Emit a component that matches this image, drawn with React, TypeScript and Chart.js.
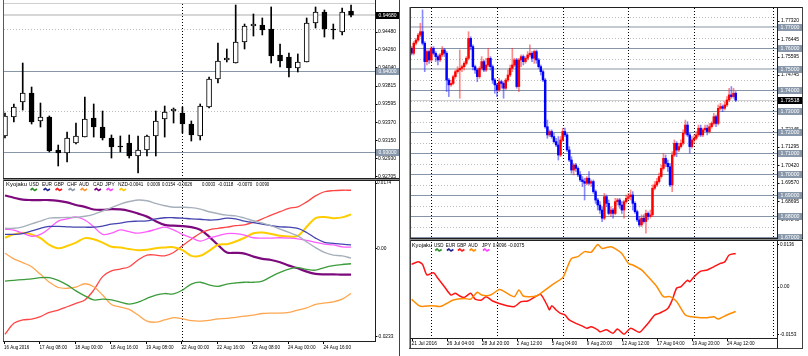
import React, { useEffect, useRef } from "react";
import { Chart, registerables } from "chart.js";

Chart.register(...registerables);

const FONT = '"Liberation Sans", Arial, sans-serif';

/* ====================== LEFT WINDOW (H4, 40 bars) ====================== */
const leftOpen = [0.93200, 0.93433, 0.93616, 0.93727, 0.93384, 0.93433, 0.93028, 0.92991, 0.93114, 0.93187, 0.93420, 0.93310, 0.93175, 0.93077, 0.93114, 0.92955, 0.93028, 0.93200, 0.93408, 0.93506, 0.93482, 0.93347, 0.93200, 0.93555, 0.93898, 0.94131, 0.94094, 0.94352, 0.94548, 0.94560, 0.94511, 0.94192, 0.94168, 0.94033, 0.94107, 0.94585, 0.94719, 0.94511, 0.94474, 0.94732];
const leftHigh = [0.93482, 0.93592, 0.94094, 0.93800, 0.93604, 0.93445, 0.93089, 0.93249, 0.93359, 0.93678, 0.93592, 0.93506, 0.93212, 0.93200, 0.93212, 0.93200, 0.93212, 0.93506, 0.93567, 0.93543, 0.93555, 0.93384, 0.93592, 0.93923, 0.94339, 0.94266, 0.94805, 0.94572, 0.94695, 0.94646, 0.94781, 0.94327, 0.94217, 0.94205, 0.94646, 0.94781, 0.94744, 0.94572, 0.94768, 0.94805];
const leftLow = [0.93175, 0.93371, 0.93518, 0.93347, 0.93310, 0.93004, 0.92832, 0.92881, 0.93102, 0.93187, 0.93187, 0.93151, 0.92930, 0.93004, 0.92930, 0.92746, 0.92955, 0.92955, 0.93187, 0.93359, 0.93236, 0.93138, 0.93151, 0.93543, 0.93849, 0.94107, 0.94094, 0.94266, 0.94425, 0.94438, 0.94094, 0.94045, 0.93923, 0.93984, 0.94107, 0.94523, 0.94413, 0.94388, 0.94438, 0.94658];
const leftClose = [0.93445, 0.93555, 0.93727, 0.93371, 0.93433, 0.93016, 0.92991, 0.93175, 0.93200, 0.93408, 0.93310, 0.93175, 0.93065, 0.93065, 0.92955, 0.93028, 0.93200, 0.93384, 0.93494, 0.93531, 0.93347, 0.93212, 0.93567, 0.93898, 0.94119, 0.94156, 0.94352, 0.94548, 0.94572, 0.94499, 0.94180, 0.94119, 0.94033, 0.94107, 0.94585, 0.94719, 0.94511, 0.94499, 0.94719, 0.94680];

const leftTimeLabels = ["16 Aug 2016", "17 Aug 08:00", "18 Aug 00:00", "18 Aug 16:00", "19 Aug 08:00", "22 Aug 00:00", "22 Aug 16:00", "23 Aug 08:00", "24 Aug 00:00", "24 Aug 16:00"];
const leftTimeLabelBars = [0, 4, 8, 12, 16, 20, 24, 28, 32, 36];
const leftPriceTicks = [0.9448, 0.9426, 0.9404, 0.93815, 0.93595, 0.9337, 0.9315, 0.9293, 0.92705];
const leftGridLevels = [0.9451, 0.9351];
const leftLevelLines = [0.94, 0.93];
const leftBid = 0.9468;
const leftSeparatorBars = [20];

/* Kyojaku indicator, left window (one value per bar) */
const leftIndUSD = [-0.0087, -0.0085, -0.0083, -0.0081, -0.0078, -0.0078, -0.0085, -0.0097, -0.0113, -0.0126, -0.0137, -0.0135, -0.0137, -0.0143, -0.0148, -0.0143, -0.0133, -0.0124, -0.0120, -0.0121, -0.0111, -0.0095, -0.0090, -0.0097, -0.0101, -0.0095, -0.0092, -0.0090, -0.0090, -0.0087, -0.0075, -0.0064, -0.0055, -0.0051, -0.0056, -0.0058, -0.0051, -0.0046, -0.0043, -0.0041];
const leftIndEUR = [0.0037, 0.0037, 0.0039, 0.0046, 0.0053, 0.0058, 0.0058, 0.0057, 0.0056, 0.0056, 0.0056, 0.0059, 0.0064, 0.0067, 0.0071, 0.0072, 0.0073, 0.0078, 0.0081, 0.0081, 0.0080, 0.0078, 0.0077, 0.0075, 0.0076, 0.0080, 0.0078, 0.0072, 0.0068, 0.0064, 0.0060, 0.0057, 0.0056, 0.0053, 0.0042, 0.0027, 0.0016, 0.0013, 0.0011, 0.0009];
const leftIndGBP = [-0.0228, -0.0199, -0.0190, -0.0188, -0.0181, -0.0170, -0.0164, -0.0155, -0.0146, -0.0137, -0.0111, -0.0075, -0.0060, -0.0055, -0.0049, -0.0031, -0.0018, -0.0018, -0.0020, -0.0011, 0.0007, 0.0024, 0.0040, 0.0049, 0.0053, 0.0056, 0.0060, 0.0062, 0.0069, 0.0078, 0.0088, 0.0097, 0.0106, 0.0110, 0.0123, 0.0139, 0.0150, 0.0153, 0.0154, 0.0154];
const leftIndCHF = [0.0053, 0.0053, 0.0057, 0.0065, 0.0072, 0.0080, 0.0081, 0.0082, 0.0082, 0.0085, 0.0090, 0.0099, 0.0108, 0.0117, 0.0124, 0.0128, 0.0126, 0.0119, 0.0113, 0.0109, 0.0109, 0.0108, 0.0104, 0.0097, 0.0092, 0.0088, 0.0086, 0.0080, 0.0073, 0.0067, 0.0060, 0.0051, 0.0042, 0.0033, 0.0017, 0.0002, -0.0011, -0.0018, -0.0020, -0.0026];
const leftIndAUD = [-0.0013, -0.0028, -0.0038, -0.0049, -0.0069, -0.0090, -0.0104, -0.0106, -0.0103, -0.0094, -0.0102, -0.0124, -0.0149, -0.0156, -0.0162, -0.0177, -0.0193, -0.0196, -0.0190, -0.0184, -0.0187, -0.0192, -0.0193, -0.0191, -0.0187, -0.0186, -0.0183, -0.0180, -0.0177, -0.0173, -0.0172, -0.0172, -0.0170, -0.0164, -0.0158, -0.0149, -0.0145, -0.0142, -0.0135, -0.0120];
const leftIndCAD = [0.0140, 0.0134, 0.0129, 0.0128, 0.0128, 0.0128, 0.0126, 0.0122, 0.0115, 0.0110, 0.0103, 0.0102, 0.0104, 0.0103, 0.0099, 0.0092, 0.0084, 0.0072, 0.0062, 0.0060, 0.0059, 0.0056, 0.0049, 0.0031, 0.0009, -0.0011, -0.0012, -0.0014, -0.0022, -0.0028, -0.0031, -0.0037, -0.0046, -0.0053, -0.0062, -0.0068, -0.0069, -0.0069, -0.0070, -0.0070];
const leftIndJPY = [0.0051, 0.0048, 0.0040, 0.0032, 0.0037, 0.0053, 0.0072, 0.0078, 0.0083, 0.0075, 0.0057, 0.0037, 0.0040, 0.0049, 0.0044, 0.0040, 0.0044, 0.0050, 0.0056, 0.0049, 0.0037, 0.0028, 0.0019, 0.0027, 0.0033, 0.0039, 0.0039, 0.0035, 0.0028, 0.0027, 0.0027, 0.0028, 0.0027, 0.0025, 0.0021, 0.0016, 0.0011, 0.0009, 0.0004, 0.0003];
const leftIndNZD = [0.0028, 0.0037, 0.0041, 0.0037, 0.0027, 0.0009, 0.0000, 0.0006, 0.0015, 0.0027, 0.0024, 0.0015, 0.0004, 0.0002, -0.0002, -0.0005, -0.0004, 0.0000, 0.0002, 0.0003, -0.0005, -0.0020, -0.0020, -0.0007, 0.0009, 0.0011, 0.0018, 0.0028, 0.0040, 0.0042, 0.0038, 0.0033, 0.0031, 0.0033, 0.0057, 0.0080, 0.0083, 0.0080, 0.0082, 0.0090];

const leftIndTicks = [0.0174, 0, -0.0233];
const leftIndTickText = ["0.0174", "0.00", "-0.0233"];
const leftLegendNames = ["USD", "EUR", "GBP", "CHF", "AUD", "CAD", "JPY", "NZD"];
const leftLegendValues = ["-0.0041", "0.0009", "0.0154", "-0.0026", "0.0003", "-0.0118", "-0.0070", "0.0090"];

/* ====================== RIGHT WINDOW (H4, 149 bars) ====================== */
const rightOpen = [
  1.7600, 1.7576, 1.7624, 1.7639, 1.7663, 1.7679, 1.7624, 1.7536, 1.7584, 1.7544,
  1.7600, 1.7576, 1.7560, 1.7544, 1.7568, 1.7592, 1.7576, 1.7448, 1.7425, 1.7432,
  1.7464, 1.7488, 1.7496, 1.7504, 1.7512, 1.7528, 1.7552, 1.7647, 1.7608, 1.7512,
  1.7496, 1.7464, 1.7504, 1.7536, 1.7496, 1.7520, 1.7552, 1.7512, 1.7448, 1.7425,
  1.7401, 1.7440, 1.7432, 1.7409, 1.7448, 1.7472, 1.7504, 1.7520, 1.7544, 1.7417,
  1.7544, 1.7560, 1.7536, 1.7552, 1.7568, 1.7576, 1.7552, 1.7584, 1.7544, 1.7512,
  1.7488, 1.7448, 1.7225, 1.7186, 1.7202, 1.7178, 1.7154, 1.7138, 1.7090, 1.7162,
  1.7202, 1.7186, 1.7114, 1.7066, 1.7018, 1.7042, 1.7026, 1.6995, 1.6971, 1.6963,
  1.6955, 1.6979, 1.6955, 1.6963, 1.6915, 1.6875, 1.6851, 1.6827, 1.6788, 1.6891,
  1.6859, 1.6811, 1.6827, 1.6811, 1.6867, 1.6875, 1.6851, 1.6827, 1.6867, 1.6883,
  1.6891, 1.6899, 1.6859, 1.6819, 1.6780, 1.6756, 1.6788, 1.6772, 1.6811, 1.6796,
  1.6804, 1.6931, 1.6947, 1.6963, 1.6987, 1.7026, 1.7074, 1.7050, 1.7034, 1.6947,
  1.7090, 1.7146, 1.7114, 1.7130, 1.7146, 1.7194, 1.7233, 1.7186, 1.7130, 1.7162,
  1.7170, 1.7186, 1.7218, 1.7186, 1.7210, 1.7218, 1.7202, 1.7225, 1.7241, 1.7273,
  1.7241, 1.7313, 1.7321, 1.7313, 1.7329, 1.7353, 1.7377, 1.7369, 1.7385];
const rightHigh = [
  1.7608, 1.7632, 1.7647, 1.7671, 1.7719, 1.7783, 1.7632, 1.7592, 1.7592, 1.7608,
  1.7608, 1.7584, 1.7568, 1.7576, 1.7608, 1.7600, 1.7584, 1.7456, 1.7448, 1.7472,
  1.7496, 1.7512, 1.7592, 1.7520, 1.7536, 1.7560, 1.7679, 1.7655, 1.7616, 1.7520,
  1.7504, 1.7512, 1.7560, 1.7544, 1.7552, 1.7600, 1.7560, 1.7520, 1.7456, 1.7432,
  1.7456, 1.7448, 1.7440, 1.7456, 1.7496, 1.7520, 1.7600, 1.7552, 1.7552, 1.7552,
  1.7568, 1.7568, 1.7560, 1.7584, 1.7616, 1.7584, 1.7592, 1.7592, 1.7552, 1.7520,
  1.7496, 1.7456, 1.7257, 1.7210, 1.7210, 1.7194, 1.7170, 1.7178, 1.7178, 1.7218,
  1.7218, 1.7194, 1.7130, 1.7082, 1.7050, 1.7050, 1.7034, 1.7011, 1.6987, 1.6979,
  1.6987, 1.7011, 1.6971, 1.6971, 1.6923, 1.6883, 1.6867, 1.6843, 1.6907, 1.6899,
  1.6875, 1.6843, 1.6835, 1.6883, 1.6883, 1.6883, 1.6867, 1.6875, 1.6899, 1.6907,
  1.6923, 1.6915, 1.6867, 1.6827, 1.6796, 1.6804, 1.6804, 1.6827, 1.6819, 1.6827,
  1.6947, 1.6963, 1.6979, 1.7003, 1.7042, 1.7098, 1.7090, 1.7066, 1.7050, 1.7106,
  1.7162, 1.7154, 1.7146, 1.7162, 1.7210, 1.7257, 1.7249, 1.7194, 1.7178, 1.7186,
  1.7202, 1.7233, 1.7233, 1.7218, 1.7233, 1.7233, 1.7241, 1.7249, 1.7289, 1.7281,
  1.7329, 1.7337, 1.7329, 1.7345, 1.7369, 1.7409, 1.7417, 1.7409, 1.7393];
const rightLow = [
  1.7568, 1.7568, 1.7616, 1.7632, 1.7655, 1.7616, 1.7488, 1.7520, 1.7528, 1.7536,
  1.7568, 1.7536, 1.7520, 1.7536, 1.7560, 1.7560, 1.7393, 1.7369, 1.7417, 1.7425,
  1.7456, 1.7480, 1.7361, 1.7488, 1.7496, 1.7520, 1.7544, 1.7592, 1.7496, 1.7480,
  1.7440, 1.7456, 1.7496, 1.7488, 1.7488, 1.7512, 1.7496, 1.7432, 1.7385, 1.7369,
  1.7393, 1.7409, 1.7361, 1.7401, 1.7440, 1.7464, 1.7488, 1.7512, 1.7409, 1.7393,
  1.7512, 1.7520, 1.7528, 1.7544, 1.7560, 1.7536, 1.7528, 1.7528, 1.7504, 1.7472,
  1.7440, 1.7218, 1.7170, 1.7178, 1.7170, 1.7146, 1.7130, 1.7066, 1.7082, 1.7154,
  1.7178, 1.7106, 1.7058, 1.7003, 1.6995, 1.7011, 1.6987, 1.6963, 1.6939, 1.6875,
  1.6947, 1.6947, 1.6939, 1.6907, 1.6859, 1.6827, 1.6811, 1.6772, 1.6780, 1.6843,
  1.6804, 1.6796, 1.6788, 1.6804, 1.6851, 1.6835, 1.6811, 1.6788, 1.6859, 1.6875,
  1.6875, 1.6827, 1.6811, 1.6772, 1.6748, 1.6748, 1.6764, 1.6716, 1.6780, 1.6788,
  1.6796, 1.6923, 1.6939, 1.6955, 1.6979, 1.7018, 1.7034, 1.7011, 1.6939, 1.6915,
  1.7082, 1.7082, 1.7106, 1.7122, 1.7138, 1.7186, 1.7178, 1.7098, 1.7122, 1.7146,
  1.7162, 1.7178, 1.7178, 1.7178, 1.7202, 1.7186, 1.7194, 1.7218, 1.7233, 1.7225,
  1.7233, 1.7305, 1.7297, 1.7305, 1.7321, 1.7345, 1.7361, 1.7361, 1.7345];
const rightClose = [
  1.7576, 1.7624, 1.7639, 1.7663, 1.7679, 1.7624, 1.7536, 1.7584, 1.7544, 1.7600,
  1.7576, 1.7560, 1.7544, 1.7568, 1.7592, 1.7576, 1.7448, 1.7425, 1.7432, 1.7464,
  1.7488, 1.7496, 1.7504, 1.7512, 1.7528, 1.7552, 1.7647, 1.7608, 1.7512, 1.7496,
  1.7464, 1.7504, 1.7536, 1.7496, 1.7520, 1.7552, 1.7512, 1.7448, 1.7425, 1.7401,
  1.7440, 1.7432, 1.7409, 1.7448, 1.7472, 1.7504, 1.7520, 1.7544, 1.7417, 1.7544,
  1.7560, 1.7536, 1.7552, 1.7568, 1.7576, 1.7552, 1.7584, 1.7544, 1.7512, 1.7488,
  1.7448, 1.7225, 1.7186, 1.7202, 1.7178, 1.7154, 1.7138, 1.7090, 1.7162, 1.7202,
  1.7186, 1.7114, 1.7066, 1.7018, 1.7042, 1.7026, 1.6995, 1.6971, 1.6963, 1.6955,
  1.6979, 1.6955, 1.6963, 1.6915, 1.6875, 1.6851, 1.6827, 1.6788, 1.6891, 1.6859,
  1.6811, 1.6827, 1.6811, 1.6867, 1.6875, 1.6851, 1.6827, 1.6867, 1.6883, 1.6891,
  1.6899, 1.6859, 1.6819, 1.6780, 1.6756, 1.6788, 1.6772, 1.6811, 1.6796, 1.6804,
  1.6931, 1.6947, 1.6963, 1.6987, 1.7026, 1.7074, 1.7050, 1.7034, 1.6947, 1.7090,
  1.7146, 1.7114, 1.7130, 1.7146, 1.7194, 1.7233, 1.7186, 1.7130, 1.7162, 1.7170,
  1.7186, 1.7218, 1.7186, 1.7210, 1.7218, 1.7202, 1.7225, 1.7241, 1.7273, 1.7241,
  1.7313, 1.7321, 1.7313, 1.7329, 1.7353, 1.7377, 1.7369, 1.7385, 1.7352];

const rightTimeLabels = ["21 Jul 2016", "26 Jul 04:00", "28 Jul 20:00", "2 Aug 12:00", "5 Aug 04:00", "9 Aug 20:00", "12 Aug 12:00", "17 Aug 04:00", "19 Aug 20:00", "24 Aug 12:00"];
const rightTimeLabelBars = [0, 16, 32, 48, 64, 80, 96, 112, 128, 144];
const rightPriceTicks = [1.7732, 1.76445, 1.75595, 1.74745, 1.7387, 1.72145, 1.71295, 1.7042, 1.6957, 1.68695, 1.67845];
const rightGridLevels = [1.7748, 1.7648, 1.7548, 1.7448, 1.7348, 1.7248, 1.7148, 1.7048, 1.6948, 1.6848, 1.6748];
const rightLevelLines = [1.77, 1.76, 1.75, 1.74, 1.73, 1.72, 1.71, 1.70, 1.69, 1.68, 1.67];
const rightLightLevels = [1.77, 1.75];
const rightBid = 1.73518;
const rightSeparatorBars = [9, 39, 69, 99, 129, 165];

/* Kyojaku indicator, right window (read at these bars) */
const rightGbpBars = [0, 3, 5, 7, 10, 12, 15, 18, 20, 22, 24, 27, 29, 32, 34, 37, 40, 44, 47, 50, 53, 57, 59, 62, 63, 64, 66, 68, 70, 72, 75, 78, 80, 82, 85, 86, 89, 92, 94, 97, 100, 104, 106, 108, 111, 113, 117, 119, 121, 123, 126, 127, 129, 132, 135, 138, 141, 143, 145, 148];
const rightGbpValues = [0.0072, 0.0080, 0.0072, 0.0038, 0.0045, 0.0027, 0.0000, -0.0027, -0.0021, -0.0030, -0.0035, -0.0021, -0.0040, -0.0043, -0.0032, -0.0046, -0.0054, -0.0062, -0.0064, -0.0048, -0.0046, -0.0030, -0.0025, -0.0061, -0.0075, -0.0061, -0.0075, -0.0086, -0.0091, -0.0107, -0.0118, -0.0127, -0.0134, -0.0129, -0.0139, -0.0145, -0.0139, -0.0150, -0.0136, -0.0153, -0.0134, -0.0147, -0.0134, -0.0118, -0.0091, -0.0086, -0.0070, -0.0043, -0.0005, 0.0000, 0.0021, 0.0016, 0.0032, 0.0050, 0.0054, 0.0064, 0.0075, 0.0080, 0.0102, 0.0107];
const rightAudBars = [0, 3, 5, 9, 13, 16, 19, 24, 27, 30, 32, 36, 40, 42, 45, 47, 49, 51, 54, 57, 60, 64, 69, 70, 73, 76, 79, 82, 85, 87, 91, 94, 96, 99, 101, 105, 108, 112, 115, 118, 121, 125, 128, 132, 135, 138, 140, 144, 148];
const rightAudValues = [-0.0041, -0.0059, -0.0064, -0.0061, -0.0064, -0.0054, -0.0043, -0.0038, -0.0040, -0.0018, -0.0027, -0.0027, -0.0009, -0.0014, -0.0027, -0.0032, -0.0011, -0.0030, -0.0032, -0.0030, -0.0016, 0.0005, 0.0029, 0.0043, 0.0091, 0.0097, 0.0113, 0.0111, 0.0136, 0.0123, 0.0129, 0.0118, 0.0107, 0.0075, 0.0070, 0.0054, 0.0032, 0.0000, -0.0032, -0.0032, -0.0048, -0.0091, -0.0097, -0.0100, -0.0100, -0.0097, -0.0104, -0.0091, -0.0080];

const rightIndTicks = [0.0136, 0, -0.0153];
const rightIndTickText = ["0.0136", "0.00", "-0.0153"];
const rightLegendNames = ["USD", "EUR", "GBP", "AUD", "JPY"];
const rightLegendValues = ["0.0096", "-0.0075"];

/* ====================== styles / layout ====================== */
const C_USD = "#3c9c3c", C_EUR = "#4444b0", C_GBP = "#ff4646", C_CHF = "#a6b0bb";
const C_AUD = "#ffa64f", C_CAD = "#7d0a7d", C_JPY = "#ff5cff", C_NZD = "#ffcc00";
const leftLegendColors = ["#2a8f2a", "#22228f", "#ff1a1a", "#8a98aa", "#ff9530", "#800080", "#ff40ff", "#ffc800"];
const rightLegendColors = ["#2a8f2a", "#22228f", "#ff1a1a", "#ff8c00", "#ff40ff"];
const leftLegendNameX = [29, 42, 54, 67, 79, 93, 105, 118];
const leftLegendValueX = [128, 147, 162, 177, 202, 218, 237, 256];
const rightLegendNameX = [434, 445.7, 456.7, 468.3, 481.7];
const rightLegendValueX = [492.7, 508.3];
const RIGHT_OFFSET = 404;

/* ====================== helpers ====================== */
function seg(ctx: any, x1: number, y1: number, x2: number, y2: number, color: string, width = 1, dash: number[] = []) {
  ctx.save();
  ctx.strokeStyle = color;
  ctx.lineWidth = width;
  ctx.setLineDash(dash);
  ctx.beginPath();
  ctx.moveTo(x1, y1);
  ctx.lineTo(x2, y2);
  ctx.stroke();
  ctx.restore();
}
const snap = (v: number) => Math.round(v) + 0.5;
function txt(ctx: any, s: string, x: number, y: number, maxW: number, color = "#000", size = 6) {
  ctx.save();
  ctx.font = `${size}px ${FONT}`;
  ctx.fillStyle = color;
  ctx.textAlign = "left";
  ctx.textBaseline = "middle";
  ctx.fillText(s, x, y, maxW);
  ctx.restore();
}
function priceBox(ctx: any, s: string, x: number, y: number, w: number, bg: string, fg: string) {
  const t = Math.round(y) - 3;
  ctx.save();
  ctx.fillStyle = bg;
  ctx.fillRect(x, t, w, 7);
  ctx.restore();
  txt(ctx, s, x + 2.5, t + 3.6, w - 5, fg);
}
function squiggle(ctx: any, x: number, y: number, color: string) {
  ctx.save();
  ctx.strokeStyle = color;
  ctx.lineWidth = 1.7;
  ctx.lineJoin = "round";
  ctx.beginPath();
  ctx.moveTo(x, y + 0.5);
  ctx.lineTo(x + 2, y - 1);
  ctx.lineTo(x + 4, y + 1);
  ctx.lineTo(x + 6.5, y - 0.5);
  ctx.stroke();
  ctx.restore();
}

function candleDatasets(open: number[], high: number[], low: number[], close: number[], st: any) {
  const idx = open.map((_, i) => i);
  const up = idx.map((i) => close[i] >= open[i]);
  return [
    {
      type: "bar",
      data: idx.map((i) => ({ x: i, y: [low[i], high[i]] })),
      backgroundColor: idx.map((i) => (up[i] ? st.wickUp : st.wickDown)),
      borderWidth: 0,
      barThickness: 1,
      grouped: false,
      order: 2,
    },
    {
      type: "bar",
      data: idx.map((i) => ({ x: i, y: [open[i], close[i]] })),
      backgroundColor: idx.map((i) => (up[i] ? st.bodyUp : st.bodyDown)),
      borderColor: st.border,
      borderWidth: st.borderWidth,
      borderSkipped: false,
      barThickness: st.bodyWidth,
      minBarLength: 1,
      grouped: false,
      order: 1,
    },
  ];
}

function lineDataset(xs: number[], ys: number[], color: string, width: number, tension: number) {
  return {
    type: "line",
    data: xs.map((x, i) => ({ x, y: ys[i] })),
    borderColor: color,
    borderWidth: width,
    pointRadius: 0,
    tension,
    fill: false,
  };
}

function baseOptions(xr: number[], yr: number[], padding: any) {
  return {
    responsive: false,
    maintainAspectRatio: false,
    animation: false,
    events: [],
    layout: { padding, autoPadding: false },
    plugins: { legend: { display: false }, tooltip: { enabled: false } },
    scales: {
      x: { type: "linear", min: xr[0], max: xr[1], display: false, offset: false },
      y: { type: "linear", min: yr[0], max: yr[1], display: false },
    },
  };
}

const LEFT_X = [-0.11, 41.7];
const RIGHT_X = [-0.27, 166.85];

/* ====================== left candle pane ====================== */
function leftCandleConfig() {
  const decor = {
    id: "leftCandleDecor",
    beforeDatasetsDraw(chart: any) {
      const { ctx, chartArea: a } = chart;
      const x = chart.scales.x, y = chart.scales.y;
      leftGridLevels.forEach((v) => { const yy = snap(y.getPixelForValue(v)); seg(ctx, a.left, yy, a.right, yy, "#bcbcbc", 1, [1, 2]); });
      leftLevelLines.forEach((v) => { const yy = snap(y.getPixelForValue(v)); seg(ctx, a.left, yy, a.right, yy, "#8797a8"); });
      const by = Math.round(y.getPixelForValue(leftBid));
      seg(ctx, a.left, by, a.right, by, "#d6d6d6", 2);
      leftSeparatorBars.forEach((b) => { const xx = snap(x.getPixelForValue(b)); seg(ctx, xx, a.top, xx, a.bottom, "#000", 1, [1, 2]); });
    },
    afterDraw(chart: any) {
      const { ctx, chartArea: a } = chart;
      const y = chart.scales.y;
      seg(ctx, a.left, a.top - 0.5, a.right, a.top - 0.5, "#cfcfcf");
      seg(ctx, a.left - 0.5, 0, a.left - 0.5, a.bottom, "#5a5a5a");
      seg(ctx, a.right + 0.5, 0, a.right + 0.5, 180, "#202020");
      seg(ctx, a.left - 1, a.bottom + 0.5, 400, a.bottom + 0.5, "#202020");
      seg(ctx, a.left - 1, a.bottom + 1.5, 400, a.bottom + 1.5, "#8a8a8a");
      seg(ctx, 399.5, 0, 399.5, 180, "#404040");
      leftPriceTicks.forEach((v) => {
        const ty = y.getPixelForValue(v);
        seg(ctx, a.right + 1, snap(ty), a.right + 2.5, snap(ty), "#000");
        txt(ctx, v.toFixed(5), a.right + 3, ty, 18);
      });
      leftLevelLines.forEach((v) => priceBox(ctx, v.toFixed(5), a.right + 1, y.getPixelForValue(v), 23, "#8898aa", "#ffffff"));
      priceBox(ctx, leftBid.toFixed(5), a.right + 1, y.getPixelForValue(leftBid), 23, "#000000", "#ffffff");
    },
  };
  return {
    type: "bar",
    data: {
      datasets: candleDatasets(leftOpen, leftHigh, leftLow, leftClose, {
        wickUp: "#000", wickDown: "#000", bodyUp: "#ffffff", bodyDown: "#000000", border: "#000", borderWidth: 1, bodyWidth: 5,
      }),
    },
    options: baseOptions(LEFT_X, [0.926851, 0.948174], { left: 4, right: 29, top: 4, bottom: 2 }),
    plugins: [decor],
  };
}

/* ====================== left indicator pane ====================== */
function leftIndicatorConfig() {
  const bars = leftIndUSD.map((_, i) => i);
  const decor = {
    id: "leftIndDecor",
    beforeDatasetsDraw(chart: any) {
      const { ctx, chartArea: a } = chart;
      const x = chart.scales.x;
      leftSeparatorBars.forEach((b) => { const xx = snap(x.getPixelForValue(b)); seg(ctx, xx, a.top, xx, a.bottom, "#000", 1, [1, 2]); });
    },
    afterDraw(chart: any) {
      const { ctx, chartArea: a } = chart;
      const x = chart.scales.x, y = chart.scales.y;
      seg(ctx, a.left - 1, 0.5, 400, 0.5, "#202020");
      seg(ctx, a.left - 0.5, 0, a.left - 0.5, a.bottom, "#5a5a5a");
      seg(ctx, a.left - 1, a.bottom + 0.5, a.right + 1, a.bottom + 0.5, "#202020");
      seg(ctx, a.right + 0.5, 0, a.right + 0.5, a.bottom + 1, "#202020");
      seg(ctx, 399.5, 0, 399.5, 176, "#404040");
      leftIndTicks.forEach((v, i) => {
        const ty = y.getPixelForValue(v);
        seg(ctx, a.right + 1, snap(ty), a.right + 2, snap(ty), "#000");
        txt(ctx, leftIndTickText[i], a.right + 2, ty, leftIndTickText[i].length * 2.35);
      });
      // legend
      txt(ctx, "Kyojaku", 6, a.top + 3, 21);
      leftLegendNames.forEach((n, i) => {
        txt(ctx, n, leftLegendNameX[i], a.top + 3, 10);
        squiggle(ctx, leftLegendNameX[i] + 1.5, a.top + 8.5, leftLegendColors[i]);
      });
      leftLegendValues.forEach((v, i) => txt(ctx, v, leftLegendValueX[i], a.top + 3, v.length * 2.2));
      // time axis
      leftTimeLabels.forEach((s, i) => {
        const tx = x.getPixelForValue(leftTimeLabelBars[i]);
        seg(ctx, snap(tx) - 1, a.bottom + 1, snap(tx) - 1, a.bottom + 3, "#000");
        txt(ctx, s, tx - 1, a.bottom + 6, s.length * 2.3);
      });
    },
  };
  return {
    type: "line",
    data: {
      datasets: [
        lineDataset(bars, leftIndCHF, C_CHF, 1.4, 0.35),
        lineDataset(bars, leftIndEUR, C_EUR, 1.3, 0.35),
        lineDataset(bars, leftIndJPY, C_JPY, 1.3, 0.35),
        lineDataset(bars, leftIndNZD, C_NZD, 2, 0.35),
        lineDataset(bars, leftIndUSD, C_USD, 1.3, 0.35),
        lineDataset(bars, leftIndAUD, C_AUD, 1.3, 0.35),
        lineDataset(bars, leftIndGBP, C_GBP, 1.3, 0.35),
        lineDataset(bars, leftIndCAD, C_CAD, 2.2, 0.35),
      ],
    },
    options: baseOptions(LEFT_X, [-0.024589, 0.017851], { left: 4, right: 29, top: 1, bottom: 15 }),
    plugins: [decor],
  };
}

/* ====================== right candle pane ====================== */
function rightCandleConfig() {
  const decor = {
    id: "rightCandleDecor",
    beforeDatasetsDraw(chart: any) {
      const { ctx, chartArea: a } = chart;
      const x = chart.scales.x, y = chart.scales.y;
      rightGridLevels.forEach((v) => { const yy = snap(y.getPixelForValue(v)); seg(ctx, a.left, yy, a.right, yy, "#bdbdbd", 1, [1, 2]); });
      rightLevelLines.forEach((v) => {
        const yy = y.getPixelForValue(v);
        if (rightLightLevels.indexOf(v) >= 0) seg(ctx, a.left, Math.round(yy), a.right, Math.round(yy), "#c2c9d1", 2);
        else seg(ctx, a.left, snap(yy), a.right, snap(yy), "#8595a7");
      });
      const by = snap(y.getPixelForValue(rightBid));
      seg(ctx, a.left, by, a.right, by, "#d0d0d0");
      rightSeparatorBars.forEach((b) => { const xx = snap(x.getPixelForValue(b)); seg(ctx, xx, a.top, xx, a.bottom, "#000", 1, [1, 2]); });
    },
    afterDraw(chart: any) {
      const { ctx, chartArea: a } = chart;
      const y = chart.scales.y;
      seg(ctx, a.left - 2, a.top - 0.5, 399, a.top - 0.5, "#202020");
      seg(ctx, a.left - 0.5, a.top - 1, a.left - 0.5, 240, "#404040");
      seg(ctx, a.left - 1.5, a.top - 1, a.left - 1.5, 240, "#9a9a9a");
      seg(ctx, a.right + 0.5, a.top, a.right + 0.5, 240, "#202020");
      seg(ctx, 398.5, a.top - 1, 398.5, 240, "#404040");
      seg(ctx, a.left - 1, a.bottom + 0.5, 399, a.bottom + 0.5, "#202020");
      seg(ctx, a.left - 1, a.bottom + 1.5, 399, a.bottom + 1.5, "#8a8a8a");
      rightPriceTicks.forEach((v) => {
        const ty = y.getPixelForValue(v);
        seg(ctx, a.right + 1, snap(ty), a.right + 2.5, snap(ty), "#000");
        txt(ctx, v.toFixed(5), a.right + 4, ty, 18);
      });
      rightLevelLines.forEach((v) => priceBox(ctx, v.toFixed(5), a.right + 1, y.getPixelForValue(v), 24, "#8898aa", "#ffffff"));
      priceBox(ctx, rightBid.toFixed(5), a.right + 1, y.getPixelForValue(rightBid), 24, "#000000", "#ffffff");
    },
  };
  return {
    type: "bar",
    data: {
      datasets: candleDatasets(rightOpen, rightHigh, rightLow, rightClose, {
        wickUp: "rgba(255,40,40,0.55)", wickDown: "rgba(40,40,255,0.55)", bodyUp: "#ff0000", bodyDown: "#0000ff", border: "#000", borderWidth: 0, bodyWidth: 1.8,
      }),
    },
    options: baseOptions(RIGHT_X, [1.669346, 1.77922], { left: 7, right: 31, top: 8, bottom: 2 }),
    plugins: [decor],
  };
}

/* ====================== right indicator pane ====================== */
function rightIndicatorConfig() {
  const decor = {
    id: "rightIndDecor",
    beforeDatasetsDraw(chart: any) {
      const { ctx, chartArea: a } = chart;
      const x = chart.scales.x;
      rightSeparatorBars.forEach((b) => { const xx = snap(x.getPixelForValue(b)); seg(ctx, xx, a.top, xx, a.bottom, "#000", 1, [1, 2]); });
    },
    afterDraw(chart: any) {
      const { ctx, chartArea: a } = chart;
      const x = chart.scales.x, y = chart.scales.y;
      seg(ctx, a.left - 2, 0.5, 399, 0.5, "#202020");
      seg(ctx, a.left - 0.5, 0, a.left - 0.5, 108, "#404040");
      seg(ctx, a.left - 1.5, 0, a.left - 1.5, 108, "#9a9a9a");
      seg(ctx, a.left - 1, a.bottom + 0.5, a.right + 1, a.bottom + 0.5, "#202020");
      seg(ctx, a.right + 0.5, 0, a.right + 0.5, 108, "#202020");
      seg(ctx, 398.5, 0, 398.5, 108.5, "#404040");
      seg(ctx, a.left - 2, 108.5, 399, 108.5, "#404040");
      rightIndTicks.forEach((v, i) => {
        const ty = y.getPixelForValue(v);
        seg(ctx, a.right + 1, snap(ty), a.right + 2, snap(ty), "#000");
        txt(ctx, rightIndTickText[i], a.right + 3, ty, rightIndTickText[i].length * 2.35);
      });
      txt(ctx, "Kyojaku", 411.7 - RIGHT_OFFSET, a.top + 3, 20.5);
      rightLegendNames.forEach((n, i) => {
        txt(ctx, n, rightLegendNameX[i] - RIGHT_OFFSET, a.top + 3, 9.5);
        squiggle(ctx, rightLegendNameX[i] - RIGHT_OFFSET + 1.2, a.top + 8, rightLegendColors[i]);
      });
      rightLegendValues.forEach((v, i) => txt(ctx, v, rightLegendValueX[i] - RIGHT_OFFSET, a.top + 3, v.length * 2.3));
      rightTimeLabels.forEach((s, i) => {
        const tx = x.getPixelForValue(rightTimeLabelBars[i]);
        seg(ctx, snap(tx), a.bottom + 1, snap(tx), a.bottom + 3, "#000");
        txt(ctx, s, tx, a.bottom + 5, s.length * 2.3);
      });
    },
  };
  return {
    type: "line",
    data: {
      datasets: [
        lineDataset(rightAudBars, rightAudValues, "#ff8c00", 1.5, 0.25),
        lineDataset(rightGbpBars, rightGbpValues, "#ff1414", 1.5, 0.25),
      ],
    },
    options: baseOptions(RIGHT_X, [-0.016522, 0.014396], { left: 7, right: 31, top: 2, bottom: 18 }),
    plugins: [decor],
  };
}

/* ====================== components ====================== */
function ChartCanvas(props: { left: number; top: number; width: number; height: number; build: () => any }) {
  const ref = useRef<HTMLCanvasElement | null>(null);
  useEffect(() => {
    if (!ref.current) return;
    const chart = new Chart(ref.current, props.build());
    return () => chart.destroy();
  }, []);
  return (
    <canvas
      ref={ref}
      width={props.width}
      height={props.height}
      style={{ position: "absolute", left: props.left, top: props.top, width: props.width, height: props.height }}
    />
  );
}

export default function App() {
  return (
    <div style={{ position: "fixed", left: 0, top: 0, width: 808, height: 356, background: "#ffffff", overflow: "hidden" }}>
      <ChartCanvas left={0} top={0} width={404} height={180} build={leftCandleConfig} />
      <ChartCanvas left={0} top={180} width={404} height={176} build={leftIndicatorConfig} />
      <ChartCanvas left={404} top={0} width={404} height={240} build={rightCandleConfig} />
      <ChartCanvas left={404} top={240} width={404} height={116} build={rightIndicatorConfig} />
    </div>
  );
}
